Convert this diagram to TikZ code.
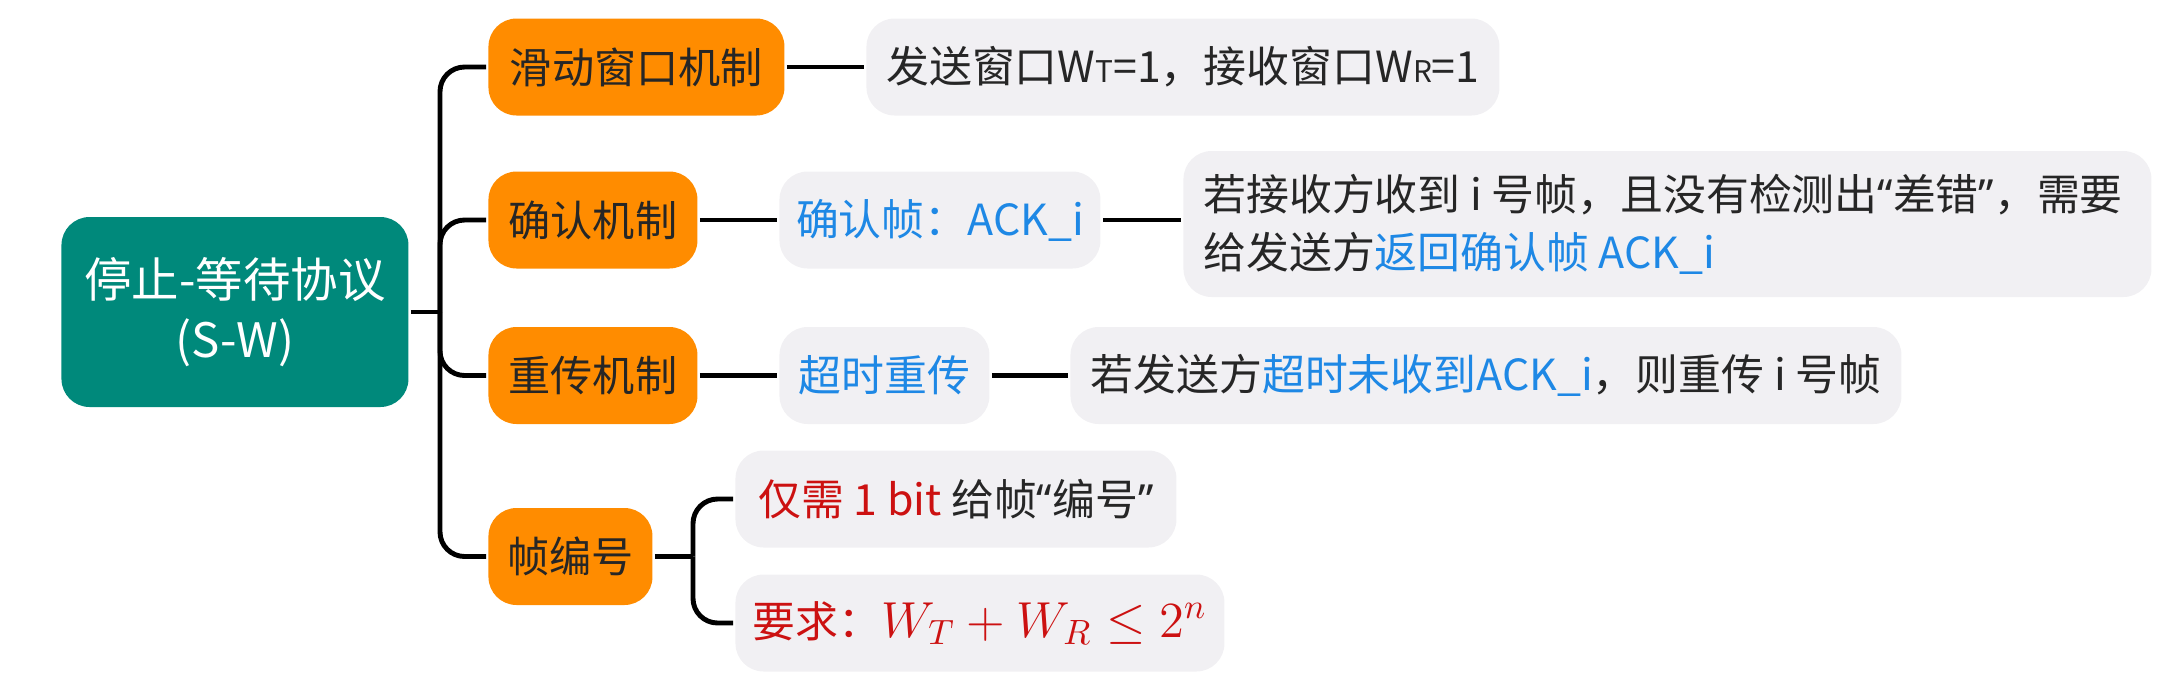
\documentclass[tikz,border=0pt]{standalone}
\usepackage{fontspec}
\setmainfont{Noto Sans CJK SC}
\newfontfamily\narrowq{Noto Sans}
\usepackage{xcolor}
\usepackage{tikz}
\usetikzlibrary{positioning}
\definecolor{swteal}{RGB}{0,137,123}
\definecolor{sworange}{RGB}{255,140,0}
\definecolor{swgray}{RGB}{241,240,243}
\definecolor{swblue}{RGB}{30,136,229}
\definecolor{swred}{RGB}{204,17,17}
\newcommand{\hl}[1]{\textcolor{swblue}{#1}}
\newcommand{\rd}[1]{\textcolor{swred}{#1}}
\newcommand{\wsub}[1]{{\fontsize{8.5}{8.5}\selectfont #1}}
\newcommand{\qt}[1]{{\narrowq “}#1{\narrowq ”}}

\begin{document}
\begin{tikzpicture}[x=1cm,y=-1cm,font=\fontsize{12}{16}\selectfont,line width=1.4pt,
  root/.style={fill=swteal,text=white,rounded corners=8pt,align=center,minimum width=3.47cm,minimum height=1.9cm,anchor=west,font=\fontsize{13.5}{17}\selectfont},
  mech/.style={fill=sworange,text=black!85,rounded corners=8pt,minimum height=0.97cm,anchor=west,inner xsep=0pt},
  leaf/.style={fill=swgray,text=black!85,rounded corners=8pt,minimum height=0.97cm,anchor=west,inner xsep=0pt,font=\fontsize{12.2}{16.5}\selectfont}]
\useasboundingbox (0,0) rectangle (21.58,6.89);
\node[root] (sw) at (0.59,3.12) {停止-等待协议\\(S-W)};
% mechanisms
\node[mech,minimum width=2.96cm] (slide) at (4.86,0.67) {滑动窗口机制};
\node[mech,minimum width=2.09cm] (ack) at (4.86,2.20) {确认机制};
\node[mech,minimum width=2.09cm] (retx) at (4.86,3.755) {重传机制};
\node[mech,minimum width=1.64cm] (seq) at (4.86,5.565) {帧编号};
% details
\node[leaf,minimum width=6.33cm] (win) at (8.64,0.67) {发送窗口W\wsub{T}=1，接收窗口W\wsub{R}=1};
\node[leaf,minimum width=3.21cm] (ackf) at (7.77,2.20) {\hl{确认帧：ACK\_i}};
\node[leaf,inner xsep=0.2cm,text width=9.28cm,minimum height=1.46cm,align=flush left] (ackd) at (11.81,2.24) {若接收方收到 i 号帧，且没有检测出\qt{差错}，需要\\给发送方\hl{返回确认帧 ACK\_i}};
\node[leaf,minimum width=2.10cm] (tmo) at (7.77,3.755) {\hl{超时重传}};
\node[leaf,minimum width=8.31cm] (tmod) at (10.68,3.755) {若发送方\hl{超时未收到ACK\_i}，则重传 i 号帧};
\node[leaf,minimum width=4.41cm] (onebit) at (7.33,4.99) {\rd{仅需 1 bit} 给帧\qt{编号}};
\node[leaf,minimum width=4.89cm] (req) at (7.33,6.23) {\rd{要求：{\fontsize{14}{16}\selectfont$W_T+W_R\le 2^n$}}};
% connectors
\coordinate (trunk) at (4.40,3.12);
\coordinate (fork) at (6.93,5.565);
\draw (sw.east) -- (trunk);
\foreach \m in {slide,ack,retx,seq} \draw[rounded corners=7pt] (trunk) |- (\m.west);
\draw (slide) -- (win);
\draw (ack) -- (ackf); \draw (ackf.east) -- (ackf.east -| ackd.west);
\draw (retx) -- (tmo); \draw (tmo) -- (tmod);
\draw (seq) -- (fork);
\foreach \l in {onebit,req} \draw[rounded corners=7pt] (fork) |- (\l.west);
\end{tikzpicture}
\end{document}
